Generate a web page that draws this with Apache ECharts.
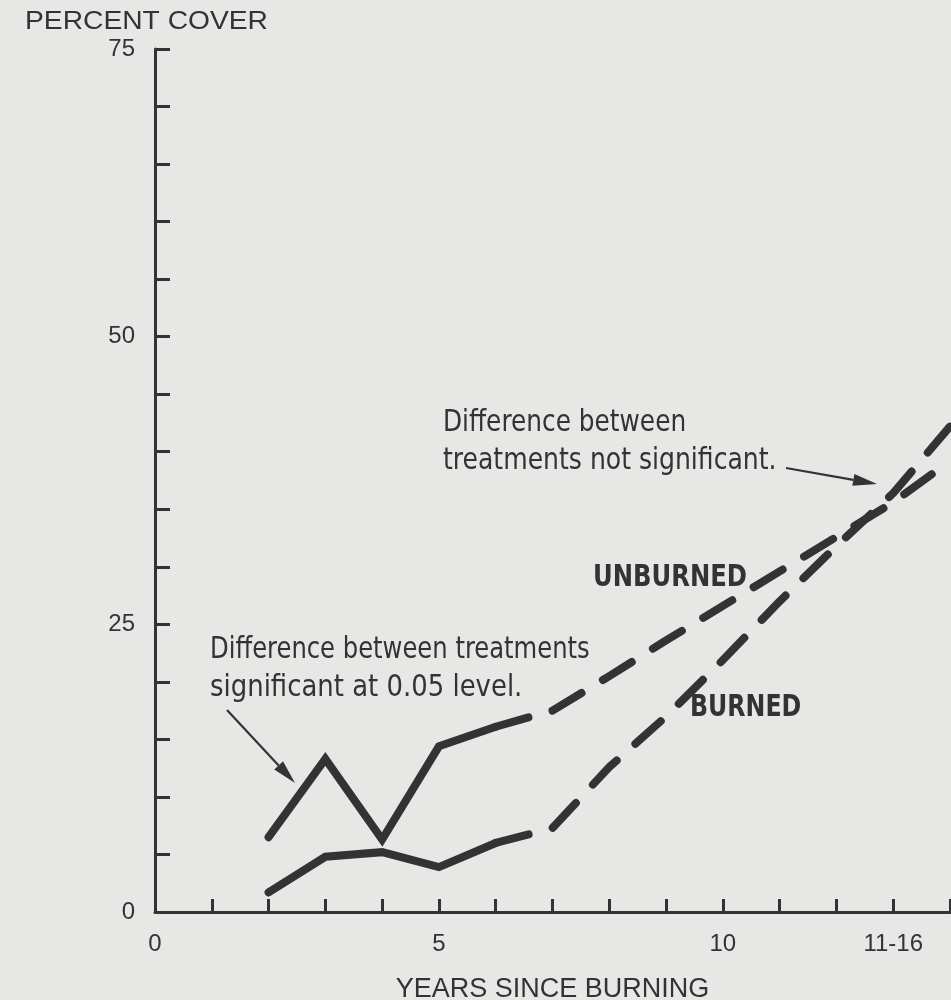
<!DOCTYPE html>
<html>
<head>
<meta charset="utf-8">
<script src="https://cdn.jsdelivr.net/npm/echarts@6/dist/echarts.min.js"></script>
<style>
html, body { margin: 0; padding: 0; background: #e7e7e5; }
#chart { width: 951px; height: 1000px; }
</style>
</head>
<body>
<div id="chart"></div>
<script>
// years since burning (position 13 is the "11-16" group)
const solidYears = [2, 3, 4, 5, 6]
const dashYears = [6, 7, 8, 9, 10, 11, 12, 13, 14]
// percent cover
const unburnedSolid = [6.5, 13.3, 6.3, 14.4, 16.1]
const unburnedDashed = [16.1, 17.5, 20.5, 23.6, 26.6, 29.6, 32.6, 35.6, 39.2]
const burnedSolid = [1.7, 4.8, 5.2, 3.9, 6.0]
const burnedDashed = [6.0, 7.3, 12.6, 17.0, 21.9, 27.0, 31.8, 36.4, 42.2]
// tick labels
const xTickLabels = { 0: '0', 5: '5', 10: '10', 13: '11-16' }
const yTickLabels = [0, 25, 50, 75]

const ink = '#333333'
const narrow = "'Liberation Sans Narrow', 'DejaVu Sans Condensed', sans-serif"
const plain = "'Liberation Sans', 'DejaVu Sans', sans-serif"

function pairs (xs, ys) {
  return xs.map((x, i) => [x, ys[i]])
}

// line with a filled arrow head at (x2, y2)
function arrow (x1, y1, x2, y2) {
  const a = Math.atan2(y2 - y1, x2 - x1)
  const len = 24
  const half = 6
  const bx = x2 - len * Math.cos(a)
  const by = y2 - len * Math.sin(a)
  return [
    { type: 'line', shape: { x1: x1, y1: y1, x2: bx, y2: by }, style: { stroke: ink, lineWidth: 2.2 } },
    {
      type: 'polygon',
      shape: {
        points: [
          [x2, y2],
          [bx + half * Math.sin(a), by - half * Math.cos(a)],
          [bx - half * Math.sin(a), by + half * Math.cos(a)]
        ]
      },
      style: { fill: ink }
    }
  ]
}

// text squeezed sideways to look like the condensed type of the original
function label (text, x, y, size, sx, weight, font) {
  return {
    type: 'text',
    x: x,
    y: y,
    scaleX: sx,
    style: {
      text: text,
      fill: ink,
      verticalAlign: 'middle',
      font: (weight || 'normal') + ' ' + size + 'px ' + (font || narrow)
    }
  }
}

const solidStyle = { color: ink, width: 8, join: 'miter', cap: 'round' }
const dashStyle = { color: ink, width: 8, type: [34, 25], cap: 'round', join: 'round' }

const myChart = echarts.init(document.getElementById('chart'))
myChart.setOption({
  backgroundColor: '#e7e7e5',
  animation: false,
  grid: { left: 155, right: 1, top: 49, bottom: 88, outerBoundsMode: 'none', containLabel: false },
  xAxis: {
    type: 'value',
    min: 0,
    max: 14,
    interval: 1,
    name: 'YEARS SINCE BURNING',
    nameLocation: 'middle',
    nameGap: 64,
    nameTextStyle: { color: ink, fontSize: 27, fontFamily: plain },
    axisLine: { lineStyle: { color: ink, width: 3 } },
    axisTick: { inside: true, length: 13, lineStyle: { color: ink, width: 3 } },
    axisLabel: {
      color: ink,
      fontSize: 24,
      fontFamily: plain,
      margin: 20,
      formatter: v => xTickLabels[v] || ''
    },
    splitLine: { show: false }
  },
  yAxis: {
    type: 'value',
    min: 0,
    max: 75,
    interval: 5,
    axisLine: { show: true, lineStyle: { color: ink, width: 3 } },
    axisTick: { show: true, inside: true, length: 15, lineStyle: { color: ink, width: 3 } },
    axisLabel: {
      color: ink,
      fontSize: 24,
      fontFamily: plain,
      margin: 20,
      formatter: v => (yTickLabels.includes(v) ? String(v) : '')
    },
    splitLine: { show: false }
  },
  series: [
    { name: 'UNBURNED', type: 'line', data: pairs(solidYears, unburnedSolid), symbol: 'none', lineStyle: solidStyle },
    { name: 'UNBURNED', type: 'line', data: pairs(dashYears, unburnedDashed), symbol: 'none', lineStyle: dashStyle },
    { name: 'BURNED', type: 'line', data: pairs(solidYears, burnedSolid), symbol: 'none', lineStyle: solidStyle },
    { name: 'BURNED', type: 'line', data: pairs(dashYears, burnedDashed), symbol: 'none', lineStyle: dashStyle }
  ],
  graphic: [
    label('PERCENT COVER', 25, 22, 26, 1.085, 'normal', plain),
    label('Difference between treatments', 210, 650, 31, 0.87),
    label('significant at 0.05 level.', 210, 688, 31, 0.93),
    label('Difference between', 443, 423, 31, 0.89),
    label('treatments not significant.', 443, 461, 31, 0.9),
    label('UNBURNED', 593, 578, 31, 0.87, 'bold'),
    label('BURNED', 690, 708, 31, 0.85, 'bold'),
    ...arrow(227, 710, 295, 783),
    ...arrow(786, 468, 877, 484)
  ]
})
</script>
</body>
</html>
